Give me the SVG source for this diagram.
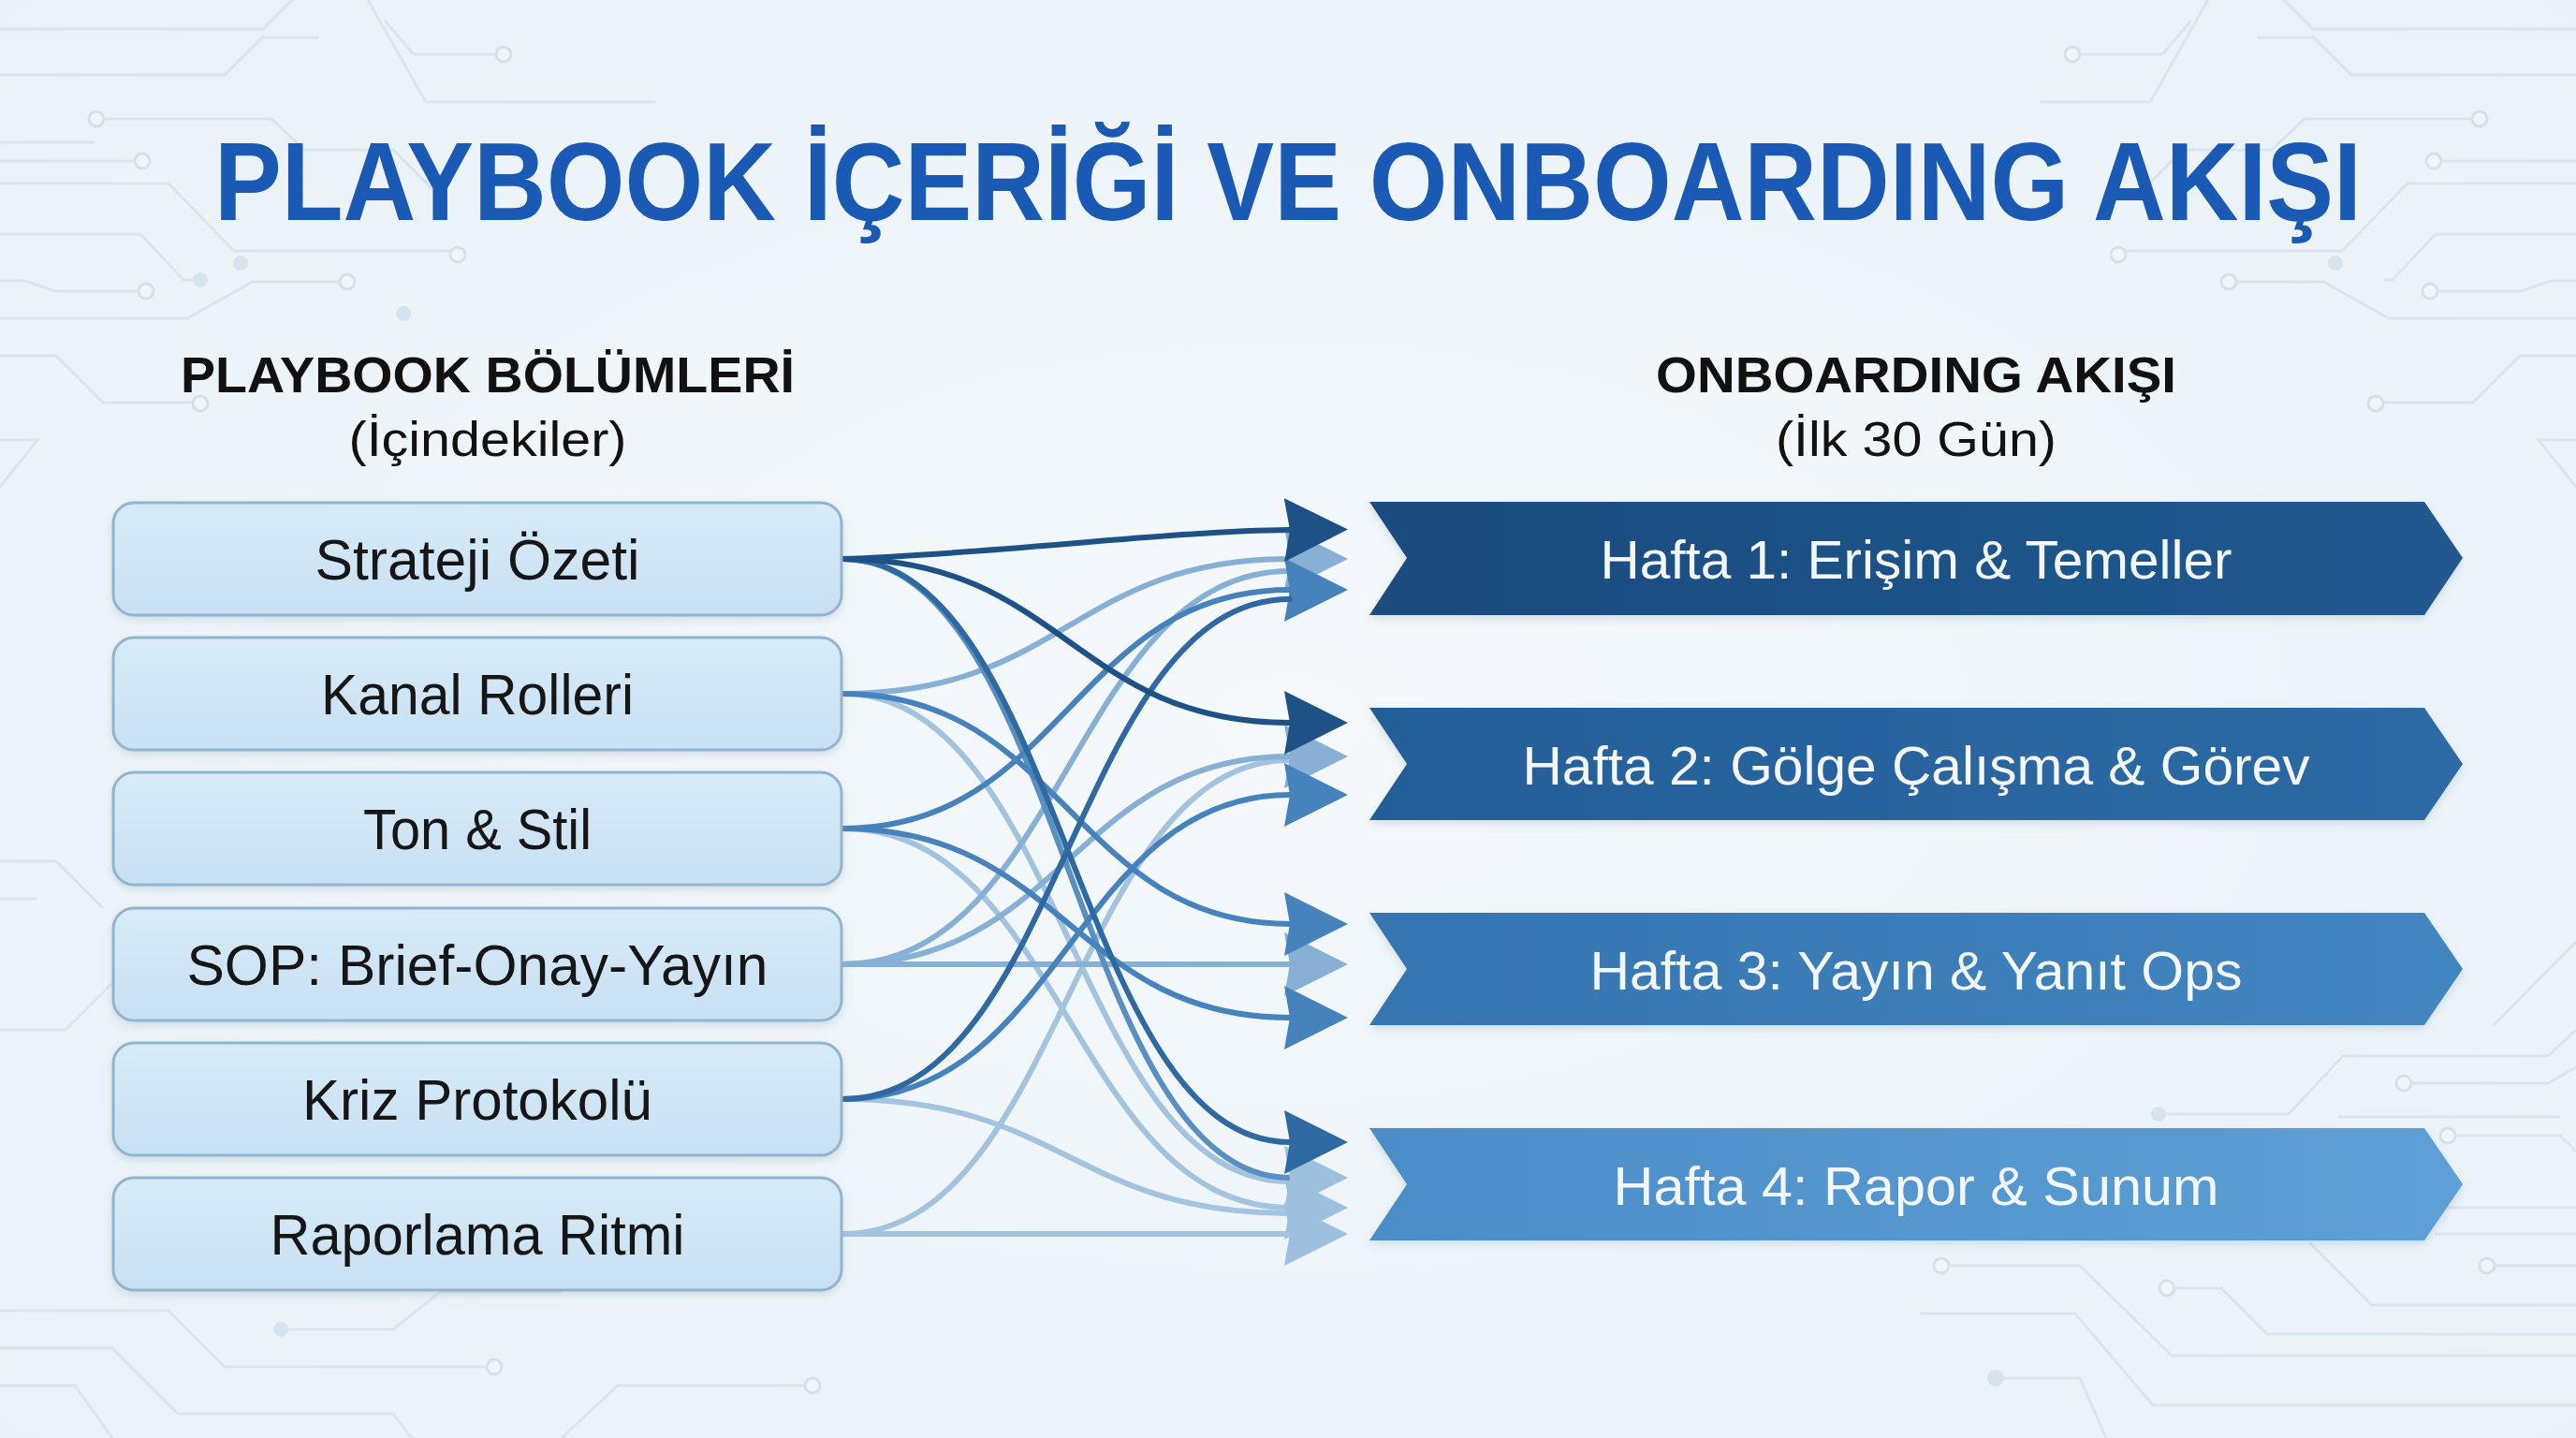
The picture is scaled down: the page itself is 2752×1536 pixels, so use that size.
<svg xmlns="http://www.w3.org/2000/svg" width="2752" height="1536" viewBox="0 0 2752 1536">
<defs>
  <radialGradient id="bg" cx="50%" cy="50%" r="75%">
    <stop offset="0" stop-color="#f5f9fc"/>
    <stop offset="1" stop-color="#e8f1f7"/>
  </radialGradient>
  <linearGradient id="boxFill" x1="0" y1="0" x2="0" y2="1">
    <stop offset="0" stop-color="#d7ebf8"/>
    <stop offset="1" stop-color="#c8e0f3"/>
  </linearGradient>
  <linearGradient id="c1" x1="0" y1="0" x2="1" y2="0">
    <stop offset="0" stop-color="#1a4b7e"/><stop offset="1" stop-color="#215990"/>
  </linearGradient>
  <linearGradient id="c2" x1="0" y1="0" x2="1" y2="0">
    <stop offset="0" stop-color="#245f99"/><stop offset="1" stop-color="#2d6aa4"/>
  </linearGradient>
  <linearGradient id="c3" x1="0" y1="0" x2="1" y2="0">
    <stop offset="0" stop-color="#3575b0"/><stop offset="1" stop-color="#4386c0"/>
  </linearGradient>
  <linearGradient id="c4" x1="0" y1="0" x2="1" y2="0">
    <stop offset="0" stop-color="#4b8dc7"/><stop offset="1" stop-color="#5d9fd6"/>
  </linearGradient>
  <filter id="sh" x="-5%" y="-20%" width="110%" height="150%">
    <feDropShadow dx="0" dy="4" stdDeviation="5" flood-color="#6f8fa8" flood-opacity="0.25"/>
  </filter>
  <marker id="mDark" markerUnits="userSpaceOnUse" viewBox="0 0 70 70" markerWidth="70" markerHeight="70" refX="6" refY="35" orient="auto">
    <path d="M0,1 L68,35 L0,69 L6,35 Z" fill="#1e5185"/>
  </marker>
  <marker id="mMid" markerUnits="userSpaceOnUse" viewBox="0 0 70 70" markerWidth="70" markerHeight="70" refX="6" refY="35" orient="auto">
    <path d="M0,1 L68,35 L0,69 L6,35 Z" fill="#2f69a2"/>
  </marker>
  <marker id="mMed" markerUnits="userSpaceOnUse" viewBox="0 0 70 70" markerWidth="70" markerHeight="70" refX="6" refY="35" orient="auto">
    <path d="M0,1 L68,35 L0,69 L6,35 Z" fill="#4682bb"/>
  </marker>
  <marker id="mLight" markerUnits="userSpaceOnUse" viewBox="0 0 70 70" markerWidth="70" markerHeight="70" refX="6" refY="35" orient="auto">
    <path d="M0,1 L68,35 L0,69 L6,35 Z" fill="#88b0d5"/>
  </marker>
  <marker id="mPale" markerUnits="userSpaceOnUse" viewBox="0 0 70 70" markerWidth="70" markerHeight="70" refX="6" refY="35" orient="auto">
    <path d="M0,1 L68,35 L0,69 L6,35 Z" fill="#9dc0df"/>
  </marker>
</defs>
<style>
  .circ{fill:none;stroke:#d8e5ef;stroke-width:3}
  .dot{fill:#f0f6fa;stroke:#d3e1ec;stroke-width:3}
  .dotf{fill:#d4e3ee}
  .box{fill:url(#boxFill);stroke:#93b4cd;stroke-width:3}
  .btxt{font-family:"Liberation Sans",Arial,sans-serif;font-size:62px;fill:#161616;text-anchor:middle}
  .ctxt{font-family:"Liberation Sans",Arial,sans-serif;font-size:57px;fill:#f3f7fb;text-anchor:middle}
  .head{font-family:"Liberation Sans",Arial,sans-serif;font-weight:bold;font-size:54px;fill:#111111;text-anchor:middle}
  .sub{font-family:"Liberation Sans",Arial,sans-serif;font-size:52px;fill:#111111;text-anchor:middle}
  .ln{fill:none;stroke-width:6;stroke-linecap:round}
  .dark{stroke:#1e5185}
  .mid{stroke:#2f69a2}
  .med{stroke:#4682bb}
  .med2{stroke:#5a8fc2}
  .light{stroke:#86b0d5}
  .pale{stroke:#a3c3df}
</style>

<rect x="0" y="0" width="2752" height="1536" fill="url(#bg)"/>

<g id="circuit">
  <!-- top-left -->
  <path class="circ" d="M0,31 H281 L312,0"/>
  <path class="circ" d="M411,22 L442,58 H530"/>
  <circle class="dot" cx="538" cy="58" r="8"/>
  <path class="circ" d="M393,0 L455,109 H700"/>
  <path class="circ" d="M0,80 H240 L280,40 H340"/>
  <circle class="dot" cx="103" cy="127" r="8"/>
  <path class="circ" d="M111,127 H290 L325,160 H420 L470,210"/>
  <circle class="dot" cx="152" cy="172" r="8"/>
  <path class="circ" d="M0,152 H100 M0,172 H144"/>
  <path class="circ" d="M0,196 H180 L250,268 H481"/>
  <circle class="dot" cx="489" cy="272" r="8"/>
  <circle class="dotf" cx="257" cy="281" r="8"/>
  <circle class="dotf" cx="214" cy="299" r="8"/>
  <path class="circ" d="M0,250 H150 L196,299 H206"/>
  <path class="circ" d="M0,300 H27 L58,311 H148"/>
  <circle class="dot" cx="156" cy="311" r="8"/>
  <path class="circ" d="M0,340 H200 L270,301 H363"/>
  <circle class="dot" cx="371" cy="301" r="8"/>
  <circle class="dotf" cx="431" cy="335" r="8"/>
  <path class="circ" d="M0,380 H60 L110,430 H206"/>
  <circle class="dot" cx="214" cy="431" r="8"/>
  <path class="circ" d="M0,470 H40 L0,520"/>
  <!-- top-right -->
  <path class="circ" d="M2752,31 H2471 L2440,0"/>
  <path class="circ" d="M2341,22 L2310,58 H2222"/>
  <circle class="dot" cx="2214" cy="58" r="8"/>
  <path class="circ" d="M2359,0 L2297,109 H2180"/>
  <path class="circ" d="M2752,80 H2512 L2472,40 H2412"/>
  <circle class="dot" cx="2649" cy="127" r="8"/>
  <path class="circ" d="M2641,127 H2462 L2427,160 H2332 L2282,210"/>
  <circle class="dot" cx="2600" cy="172" r="8"/>
  <path class="circ" d="M2752,172 H2608"/>
  <path class="circ" d="M2752,196 H2572 L2502,268 H2271"/>
  <circle class="dot" cx="2263" cy="272" r="8"/>
  <circle class="dotf" cx="2495" cy="281" r="8"/>
  <path class="circ" d="M2752,250 H2602 L2556,299 H2546"/>
  <path class="circ" d="M2752,300 H2725 L2694,311 H2604"/>
  <circle class="dot" cx="2596" cy="311" r="8"/>
  <path class="circ" d="M2752,340 H2552 L2482,301 H2389"/>
  <circle class="dot" cx="2381" cy="301" r="8"/>
  <path class="circ" d="M2752,380 H2692 L2642,430 H2546"/>
  <circle class="dot" cx="2538" cy="431" r="8"/>
  <path class="circ" d="M2752,470 H2712 L2752,520"/>
  <!-- bottom-right -->
  <path class="circ" d="M2664,1095 L2752,1006"/>
  <path class="circ" d="M2503,1128 H2722 L2752,1100"/>
  <circle class="dot" cx="2568" cy="1157" r="8"/>
  <path class="circ" d="M2576,1157 H2722 L2752,1140"/>
  <circle class="dotf" cx="2306" cy="1190" r="8"/>
  <path class="circ" d="M2314,1190 H2445 L2503,1128"/>
  <path class="circ" d="M2498,1193 H2735"/>
  <circle class="dot" cx="2615" cy="1213" r="8"/>
  <path class="circ" d="M2623,1213 H2735 L2752,1230"/>
  <path class="circ" d="M2601,1318 H2752"/>
  <circle class="dot" cx="2657" cy="1352" r="8"/>
  <path class="circ" d="M2665,1352 H2752"/>
  <circle class="dot" cx="2074" cy="1352" r="8"/>
  <path class="circ" d="M2082,1352 H2222 L2320,1448 H2752"/>
  <circle class="dot" cx="2315" cy="1376" r="8"/>
  <path class="circ" d="M2323,1376 H2373 L2422,1425 H2752"/>
  <path class="circ" d="M2052,1403 H2217 L2300,1501 H2752"/>
  <circle class="dotf" cx="2132" cy="1472" r="9"/>
  <path class="circ" d="M2141,1472 H2222 L2250,1536"/>
  <path class="circ" d="M2467,1327 L2534,1394 H2752"/>
  <path class="circ" d="M2300,1230 H2440 L2520,1290 H2752"/>
  <!-- bottom-left -->
  <path class="circ" d="M0,1400 H180 L240,1460 H520"/>
  <circle class="dot" cx="528" cy="1460" r="8"/>
  <path class="circ" d="M0,1440 H120 L190,1510 H420 L440,1536"/>
  <circle class="dotf" cx="300" cy="1420" r="8"/>
  <path class="circ" d="M308,1420 H420 L470,1380 H600"/>
  <path class="circ" d="M0,1480 H80 L120,1536"/>
  <path class="circ" d="M600,1536 L660,1480 H860"/>
  <circle class="dot" cx="868" cy="1480" r="8"/>
  <path class="circ" d="M0,920 H60 L110,970 M0,960 H40"/>
  <path class="circ" d="M0,1100 H70 L120,1050"/>
</g>

<g id="connectors">
  <path class="ln pale" d="M900,741 C1135,741 1148,1262 1378,1262"/>
  <path class="ln pale" d="M900,885 C1135,885 1148,1290 1378,1290" marker-end="url(#mPale)"/>
  <path class="ln pale" d="M900,1174 C1135,1174 1148,1296 1378,1296"/>
  <path class="ln pale" d="M900,1318 C1135,1318 1148,812 1378,812"/>
  <path class="ln pale" d="M900,1318 L1378,1318" marker-end="url(#mPale)"/>
  <path class="ln light" d="M900,1030 C1135,1030 1148,610 1378,610"/>
  <path class="ln light" d="M900,1030 C1135,1030 1148,808 1378,808" marker-end="url(#mLight)"/>
  <path class="ln light" d="M900,1030 L1378,1030" marker-end="url(#mLight)"/>
  <path class="ln light" d="M900,741 C1135,741 1148,597 1378,597" marker-end="url(#mLight)"/>
  <path class="ln med2" d="M900,597 C1135,597 1148,1258 1378,1258" marker-end="url(#mPale)"/>
  <path class="ln med" d="M900,741 C1135,741 1148,987 1378,987" marker-end="url(#mMed)"/>
  <path class="ln med" d="M900,885 C1135,885 1148,1087 1378,1087" marker-end="url(#mMed)"/>
  <path class="ln med" d="M900,1174 C1135,1174 1148,849 1378,849" marker-end="url(#mMed)"/>
  <path class="ln med" d="M900,885 C1135,885 1148,630 1378,630" marker-end="url(#mMed)"/>
  <path class="ln mid" d="M900,1174 C1135,1174 1148,640 1378,640"/>
  <path class="ln mid" d="M900,597 C1135,597 1148,1220 1378,1220" marker-end="url(#mMid)"/>
  <path class="ln dark" d="M900,597 C1135,597 1148,772 1378,772" marker-end="url(#mDark)"/>
  <path class="ln dark" d="M900,597 C1060,592 1250,567 1378,566" marker-end="url(#mDark)"/>
</g>

<g id="title">
  <text x="1376" y="235" font-family="'Liberation Sans',Arial,sans-serif" font-weight="bold" font-size="118" fill="#1a5ab5" text-anchor="middle" textLength="2294" lengthAdjust="spacingAndGlyphs">PLAYBOOK İÇERİĞİ VE ONBOARDING AKIŞI</text>
</g>

<g id="left-header">
  <text class="head" x="521" y="419" textLength="656" lengthAdjust="spacingAndGlyphs">PLAYBOOK BÖLÜMLERİ</text>
  <text class="sub" x="521" y="487" textLength="297" lengthAdjust="spacingAndGlyphs">(İçindekiler)</text>
</g>
<g id="right-header">
  <text class="head" x="2047" y="419" textLength="556" lengthAdjust="spacingAndGlyphs">ONBOARDING AKIŞI</text>
  <text class="sub" x="2047" y="487" textLength="300" lengthAdjust="spacingAndGlyphs">(İlk 30 Gün)</text>
</g>

<g id="node-strateji" filter="url(#sh)">
  <rect class="box" x="121" y="537" width="778" height="120" rx="22"/>
  <text class="btxt" x="510" y="619" textLength="347" lengthAdjust="spacingAndGlyphs">Strateji Özeti</text>
</g>
<g id="node-kanal" filter="url(#sh)">
  <rect class="box" x="121" y="681" width="778" height="120" rx="22"/>
  <text class="btxt" x="510" y="763" textLength="334" lengthAdjust="spacingAndGlyphs">Kanal Rolleri</text>
</g>
<g id="node-ton" filter="url(#sh)">
  <rect class="box" x="121" y="825" width="778" height="120" rx="22"/>
  <text class="btxt" x="510" y="907" textLength="244" lengthAdjust="spacingAndGlyphs">Ton &amp; Stil</text>
</g>
<g id="node-sop" filter="url(#sh)">
  <rect class="box" x="121" y="970" width="778" height="120" rx="22"/>
  <text class="btxt" x="510" y="1052" textLength="621" lengthAdjust="spacingAndGlyphs">SOP: Brief-Onay-Yayın</text>
</g>
<g id="node-kriz" filter="url(#sh)">
  <rect class="box" x="121" y="1114" width="778" height="120" rx="22"/>
  <text class="btxt" x="510" y="1196" textLength="374" lengthAdjust="spacingAndGlyphs">Kriz Protokolü</text>
</g>
<g id="node-rapor" filter="url(#sh)">
  <rect class="box" x="121" y="1258" width="778" height="120" rx="22"/>
  <text class="btxt" x="510" y="1340" textLength="443" lengthAdjust="spacingAndGlyphs">Raporlama Ritmi</text>
</g>

<g id="node-hafta1" filter="url(#sh)">
  <polygon points="1463,536 2590,536 2631,596 2590,657 1463,657 1503,596" fill="url(#c1)"/>
  <text class="ctxt" x="2047" y="618" textLength="675" lengthAdjust="spacingAndGlyphs">Hafta 1: Erişim &amp; Temeller</text>
</g>
<g id="node-hafta2" filter="url(#sh)">
  <polygon points="1463,756 2590,756 2631,816 2590,876 1463,876 1503,816" fill="url(#c2)"/>
  <text class="ctxt" x="2047" y="838" textLength="841" lengthAdjust="spacingAndGlyphs">Hafta 2: Gölge Çalışma &amp; Görev</text>
</g>
<g id="node-hafta3" filter="url(#sh)">
  <polygon points="1463,975 2590,975 2631,1035 2590,1095 1463,1095 1503,1035" fill="url(#c3)"/>
  <text class="ctxt" x="2047" y="1057" textLength="697" lengthAdjust="spacingAndGlyphs">Hafta 3: Yayın &amp; Yanıt Ops</text>
</g>
<g id="node-hafta4" filter="url(#sh)">
  <polygon points="1463,1205 2590,1205 2631,1265 2590,1325 1463,1325 1503,1265" fill="url(#c4)"/>
  <text class="ctxt" x="2047" y="1287" textLength="647" lengthAdjust="spacingAndGlyphs">Hafta 4: Rapor &amp; Sunum</text>
</g>
</svg>
